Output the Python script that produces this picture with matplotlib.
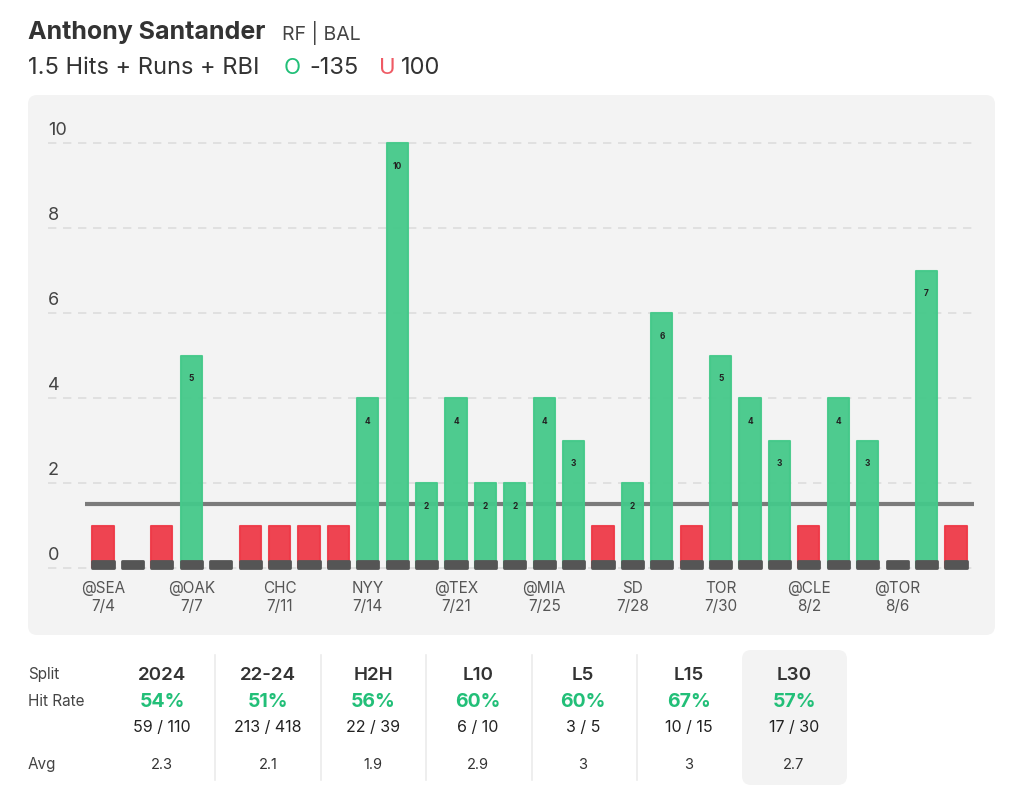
import numpy as np
import matplotlib
matplotlib.use('Agg')
import matplotlib.pyplot as plt
from matplotlib.patches import FancyBboxPatch
from matplotlib.lines import Line2D

plt.rcParams['font.family'] = ['Inter', 'DejaVu Sans']

# --- data ---
values = [1, 0, 1, 5, 0, 1, 1, 1, 1, 4, 10, 2, 4, 2, 2, 4, 3, 1, 2, 6,
          1, 5, 4, 3, 1, 4, 3, 0, 7, 1]
line_value = 1.5
tick_idx = [0, 3, 6, 9, 12, 15, 18, 21, 24, 27]
tick_opp = ['@SEA', '@OAK', 'CHC', 'NYY', '@TEX', '@MIA', 'SD', 'TOR', '@CLE', '@TOR']
tick_date = ['7/4', '7/7', '7/11', '7/14', '7/21', '7/25', '7/28', '7/30', '8/2', '8/6']
y_ticks = [0, 2, 4, 6, 8, 10]

splits = ['2024', '22-24', 'H2H', 'L10', 'L5', 'L15', 'L30']
hit_rates = ['54%', '51%', '56%', '60%', '60%', '67%', '57%']
hit_counts = ['59 / 110', '213 / 418', '22 / 39', '6 / 10', '3 / 5', '10 / 15', '17 / 30']
averages = ['2.3', '2.1', '1.9', '2.9', '3', '3', '2.7']

GREEN = '#45c98a'
RED = '#ee3a48'
STUB = '#555555'
PCT_GREEN = '#22bf78'

W, H = 1024, 806
def fx(px): return px / W
def fy(py): return 1 - py / H

fig = plt.figure(figsize=(W / 100, H / 100), dpi=100)
fig.patch.set_facecolor('white')

# chart panel background
panel = FancyBboxPatch((fx(28), fy(635)), fx(995) - fx(28), fy(95) - fy(635),
                       boxstyle='round,pad=0,rounding_size=0.009', mutation_aspect=W / H,
                       transform=fig.transFigure, facecolor='#f3f3f3', edgecolor='none', zorder=-1)
fig.patches.append(panel)

# L30 highlight box
hl = FancyBboxPatch((fx(742), fy(785)), fx(847) - fx(742), fy(650) - fy(785),
                    boxstyle='round,pad=0,rounding_size=0.009', mutation_aspect=W / H,
                    transform=fig.transFigure, facecolor='#f3f3f3', edgecolor='none', zorder=-1)
fig.patches.append(hl)

# header
fig.text(fx(28), fy(32), 'Anthony Santander', fontsize=18, fontweight='bold',
         color='#333333', va='center', ha='left')
fig.text(fx(282), fy(33), 'RF | BAL', fontsize=14, color='#444444', va='center', ha='left')
fig.text(fx(28), fy(68), '1.5 Hits + Runs + RBI', fontsize=17, color='#333333', va='center', ha='left')
fig.text(fx(284), fy(68), 'O', fontsize=16, color=PCT_GREEN, va='center', ha='left')
fig.text(fx(309), fy(68), '-135', fontsize=17, color='#333333', va='center', ha='left')
fig.text(fx(379), fy(68), 'U', fontsize=16, color='#ef5a64', va='center', ha='left')
fig.text(fx(401), fy(68), '100', fontsize=17, color='#333333', va='center', ha='left')

# bar axes
x = np.arange(len(values))
xmin, xmax = -0.6, len(values) - 0.4
ymax = 10.6
left_px, right_px = 85.4, 973.6
ax = fig.add_axes([fx(left_px), fy(568), (right_px - left_px) / W, (ymax * 42.5) / H])
ax.set_xlim(xmin, xmax)
ax.set_ylim(0, ymax)
ax.set_facecolor('none')
for s in ax.spines.values():
    s.set_visible(False)
ax.set_xticks([])
ax.set_yticks([])

grid_start = (48 - left_px) / (right_px - left_px)
for yv in y_ticks:
    ax.axhline(yv, xmin=grid_start, xmax=1.0, color='#dddddd', lw=1.2,
               linestyle=(0, (5, 4)), zorder=1, clip_on=False)
    ax.text(grid_start, yv + 0.3, str(yv), transform=ax.get_yaxis_transform(),
            fontsize=13, color='#444444', ha='left', va='center')

ax.axhline(line_value, xmin=0, xmax=1, color='#7a7a7a', lw=3, zorder=2)

colors = [GREEN if v > line_value else RED for v in values]
bars = ax.bar(x, values, width=0.72, color=colors, edgecolor=colors, linewidth=1.5,
              alpha=0.95, zorder=3)
for b in bars:
    b.set_joinstyle('round')
stubs = ax.bar(x, [0.16] * len(values), width=0.72, color=STUB, edgecolor=STUB,
               linewidth=2, zorder=4, clip_on=False)
for b in stubs:
    b.set_joinstyle('round')

for xi, v in zip(x, values):
    if v > line_value:
        ax.text(xi, v - 0.55, str(v), fontsize=6, fontweight='bold', color='#222222',
                ha='center', va='center', zorder=5)

for i, opp, dt in zip(tick_idx, tick_opp, tick_date):
    ax.text(i, -0.48, opp, fontsize=11, color='#555555', ha='center', va='center', clip_on=False)
    ax.text(i, -0.91, dt, fontsize=11, color='#555555', ha='center', va='center', clip_on=False)

# stats table
fig.text(fx(28), fy(674), 'Split', fontsize=11, color='#444444', va='center', ha='left')
fig.text(fx(28), fy(702), 'Hit Rate', fontsize=11, color='#444444', va='center', ha='left')
fig.text(fx(28), fy(765), 'Avg', fontsize=11, color='#444444', va='center', ha='left')

col_x = [162, 268, 373, 478, 583, 689, 794]
for cx, sp, hr, hc, av in zip(col_x, splits, hit_rates, hit_counts, averages):
    fig.text(fx(cx), fy(675), sp, fontsize=13.5, fontweight='semibold', color='#333333',
             ha='center', va='center')
    fig.text(fx(cx), fy(702), hr, fontsize=14, fontweight='bold', color=PCT_GREEN,
             ha='center', va='center')
    fig.text(fx(cx), fy(727), hc, fontsize=11.5, color='#222222', ha='center', va='center')
    fig.text(fx(cx), fy(765), av, fontsize=10.5, color='#333333', ha='center', va='center')

for sx in [215, 321, 426, 532, 637]:
    fig.lines.append(Line2D([fx(sx), fx(sx)], [fy(655), fy(780)], transform=fig.transFigure,
                            color='#ebebeb', lw=1.2))

fig.savefig('out.png', dpi=100)
